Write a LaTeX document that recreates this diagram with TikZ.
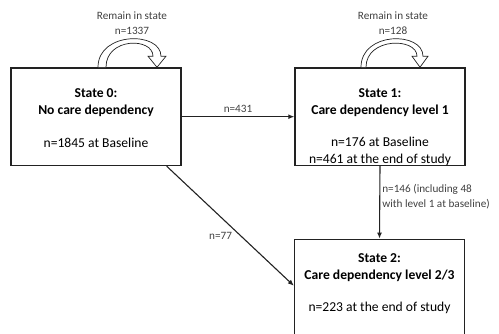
\documentclass[tikz,border=0pt]{standalone}
\usepackage{fontspec}
\setmainfont{Carlito}
\usetikzlibrary{arrows.meta,positioning,calc}
\definecolor{ink}{RGB}{34,34,34}
\definecolor{note}{RGB}{64,64,64}
\tikzset{
  state/.style={draw=ink, line width=1.4pt, minimum width=170pt, inner sep=0pt},
  statetext/.style={inner sep=0pt, align=center, text=black,
              font=\fontsize{13.6}{17}\selectfont},
  cnt/.style={inner sep=0pt, align=center, text=note,
              font=\fontsize{11.2}{15}\selectfont},
  move/.style={-{Latex[length=6pt,width=5pt]}, ink, line width=1.1pt},
  stay/.style={draw=ink, line width=0.7pt, fill=white},
}

\begin{document}
\begin{tikzpicture}[x=1pt,y=-1pt]
        \clip (0,0) rectangle (499,334);
        % states
        \node[state,minimum height=97.5pt] (s0) at (96,116.7) {};
        \node[state,minimum height=97.5pt] (s1) at (380,116.7) {};
        \node[state,minimum height=120pt] (s2) at (379.5,299.3) {};
        \node[statetext,below=21.5pt of s0.north] (t0) {\textbf{State 0:}\\\textbf{No care dependency}\\[16pt]n=1845 at Baseline};
        \node[statetext,below=21pt of s1.north] (t1) {\textbf{State 1:}\\\textbf{Care dependency level 1}\\[15pt]n=176 at Baseline\\n=461 at the end of study};
        \node[statetext,below=14.5pt of s2.north] (t2) {\textbf{State 2:}\\\textbf{Care dependency level 2/3}\\[15pt]n=223 at the end of study};
        % remain in state
        \node[cnt] (r0) at (132,23.5) {Remain in state\\n=1337};
        \node[cnt] (r1) at (393,23.5) {Remain in state\\n=128};
        \begin{scope}[shift={(s0.north)}]
          \draw[stay] (2,0) .. controls (2,-36) and (65,-36) .. (65,-11) -- (70,-11) -- (61,0)
                -- (52,-11) -- (57,-11) .. controls (57,-30) and (10,-30) .. (10,0);
        \end{scope}
        \begin{scope}[shift={(s1.north)}]
          \draw[stay] (-19,0) .. controls (-19,-36) and (43,-36) .. (43,-11) -- (48,-11) -- (40,0)
                -- (32,-11) -- (37,-11) .. controls (37,-30) and (-14,-30) .. (-14,0);
        \end{scope}
        % transitions
        \draw[move] (s0.east) -- (s1.west) node[cnt,midway,above=4pt] (e01) {n=431};
        \draw[move] (s1.south) -- (s2.north) node[cnt,pos=0.42,right=2pt,align=left] (e12) {n=146 (including 48\\with level 1 at baseline)};
        \draw[move] (s0.-35) -- (s2.171) node[cnt,pos=0.55,anchor=north east,xshift=-4pt] (e02) {n=77};
\end{tikzpicture}
\end{document}
